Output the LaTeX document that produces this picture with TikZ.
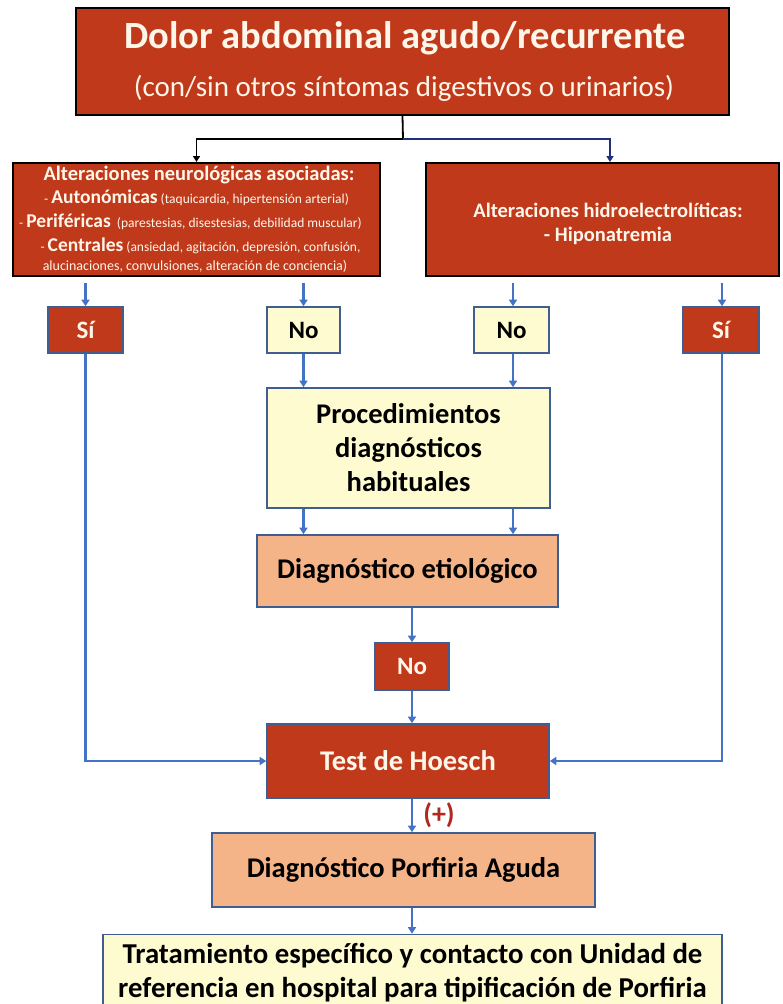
\documentclass[tikz,border=0pt]{standalone}
\usepackage{fontspec}
\setmainfont{Carlito}
\usetikzlibrary{arrows.meta}
\definecolor{redbox}{HTML}{C0391B}
\definecolor{yelbox}{HTML}{FDFBCF}
\definecolor{peach}{HTML}{F4B487}
\definecolor{bord}{HTML}{3F5E92}
\definecolor{arrblue}{HTML}{4472C4}
\definecolor{navyline}{HTML}{1F2F7A}
\definecolor{cream}{HTML}{FFF6EA}
\definecolor{plusred}{HTML}{B0281E}
\newcommand{\fs}[1]{\fontsize{#1}{#1}\selectfont}
\tikzset{
  box/.style={draw=bord, line width=1.6pt, inner sep=0pt, align=center, font=\bfseries},
  redb/.style={box, fill=redbox, text=cream},
  yelb/.style={box, fill=yelbox, text=black},
  peachb/.style={box, fill=peach, text=black},
  bigred/.style={draw=black, line width=2pt, fill=redbox, text=cream, inner sep=0pt, align=center},
  arr/.style={draw=arrblue, line width=2.6pt, -{Triangle[width=8pt,length=6.5pt]}},
  blk/.style={draw=black, line width=1.8pt},
  ltxt/.style={text=cream, inner sep=0pt, font=\fs{13.5}},
  yn/.style={font=\bfseries\fs{25}},
}
\begin{document}
\begin{tikzpicture}[x=1pt,y=-1pt]
\useasboundingbox (0,0) rectangle (783,1004);
\fill[white] (0,0) rectangle (783,1004);
% top
\node[bigred, minimum width=653pt, minimum height=107pt] (top) at (402.5,61.5) {};
\node[text=cream, font=\bfseries\fs{38.5}] (t1) at (405,38) {Dolor abdominal agudo/recurrente};
\node[text=cream, font=\fs{29}] (t2) at (404,88) {(con/sin otros síntomas digestivos o urinarios)};
% second row
\node[bigred, minimum width=367pt, minimum height=113pt] (L) at (196.5,219.5) {};
\node[bigred, minimum width=353pt, minimum height=113pt] (R) at (602.5,219.5) {};
\node[text=cream, inner sep=0pt, font=\bfseries\fs{20.5}] (l1) at (199,175) {Alteraciones neurológicas asociadas:};
\node[ltxt] (l2) at (196.5,198) {- {\bfseries\fs{19.5}Autonómicas} (taquicardia, hipertensión arterial)};
\node[ltxt] (l3) at (190.5,222) {- {\bfseries\fs{19.5}Periféricas}~ (parestesias, disestesias, debilidad muscular)};
\node[ltxt] (l4) at (200.5,246) {- {\bfseries\fs{19.5}Centrales} (ansiedad, agitación, depresión, confusión,};
\node[ltxt, font=\fs{14}] (l5) at (195,266) {alucinaciones, convulsiones, alteración de conciencia)};
\node[text=cream, font=\bfseries\fontsize{20.5}{24}\selectfont, align=center] (r1) at (608,224) {Alteraciones hidroelectrolíticas:\\- Hiponatremia};
% connectors from top
\coordinate (br) at (403,139);
\draw[blk] (top.south) -- (br);
\draw[blk, -{Triangle[width=7pt,length=6pt]}] (br) -| (L.north);
\draw[draw=navyline, line width=1.8pt, -{Triangle[width=7pt,length=6pt]}] (br) -| ([xshift=7.5pt]R.north);
% yes/no
\node[redb, yn, minimum width=75pt, minimum height=46pt] (siL) at (85.5,330) {Sí};
\node[yelb, yn, minimum width=73pt, minimum height=46pt] (noL) at (303.5,330) {No};
\node[yelb, yn, minimum width=75pt, minimum height=46pt] (noR) at (511.5,330) {No};
\node[redb, yn, minimum width=76pt, minimum height=46pt] (siR) at (721,330) {Sí};
\draw[arr, shorten <=6pt] (siL.north |- L.south) -- (siL.north);
\draw[arr, shorten <=6pt] (noL.north |- L.south) -- (noL.north);
\draw[arr, shorten <=6pt] ([xshift=1.5pt]noR.north |- R.south) -- ([xshift=1.5pt]noR.north);
\draw[arr, shorten <=6pt] ([xshift=1pt]siR.north |- R.south) -- ([xshift=1pt]siR.north);
% procedures
\node[yelb, minimum width=283pt, minimum height=120pt, font=\bfseries\fontsize{28.5}{34}\selectfont] (proc) at (408.5,448) {Procedimientos\\diagnósticos\\habituales};
\draw[arr] (noL.south) -- (noL.south |- proc.north);
\draw[arr] ([xshift=1.5pt]noR.south) -- ([xshift=1.5pt]noR.south |- proc.north);
\node[peachb, minimum width=301pt, minimum height=72pt, font=\bfseries\fs{28.5}] (etio) at (407.5,571) {Diagnóstico etiológico};
\draw[arr] (proc.south -| noL.south) -- (etio.north -| noL.south);
\draw[arr] ([xshift=1.5pt]proc.south -| noR.south) -- ([xshift=1.5pt]etio.north -| noR.south);
\node[redb, yn, minimum width=74pt, minimum height=47pt] (no2) at (412,666.5) {No};
\draw[arr] (etio.south -| no2.north) -- (no2.north);
\node[redb, minimum width=282pt, minimum height=74pt, font=\bfseries\fs{28.5}] (test) at (408,761) {Test de Hoesch};
\draw[arr] (no2.south) -- (no2.south |- test.north);
\draw[arr] (siL.south) |- (test.west);
\draw[arr] ([xshift=1pt]siR.south) |- (test.east);
\node[peachb, minimum width=383pt, minimum height=74pt, font=\bfseries\fs{28.5}] (porf) at (403.5,870) {Diagnóstico Porfiria Aguda};
\draw[arr] (test.south -| no2.south) -- node[right=10pt, inner sep=0pt, text=plusred, font=\bfseries\fs{28}] (plus) {(+)} (porf.north -| no2.south);
\node[yelb, minimum width=619pt, minimum height=77pt, font=\bfseries\fontsize{28.8}{34}\selectfont] (trat) at (412.5,973) {Tratamiento específico y contacto con Unidad de\\referencia en hospital para tipificación de Porfiria};
\draw[arr] (porf.south -| no2.south) -- (trat.north -| no2.south);
\end{tikzpicture}
\end{document}
